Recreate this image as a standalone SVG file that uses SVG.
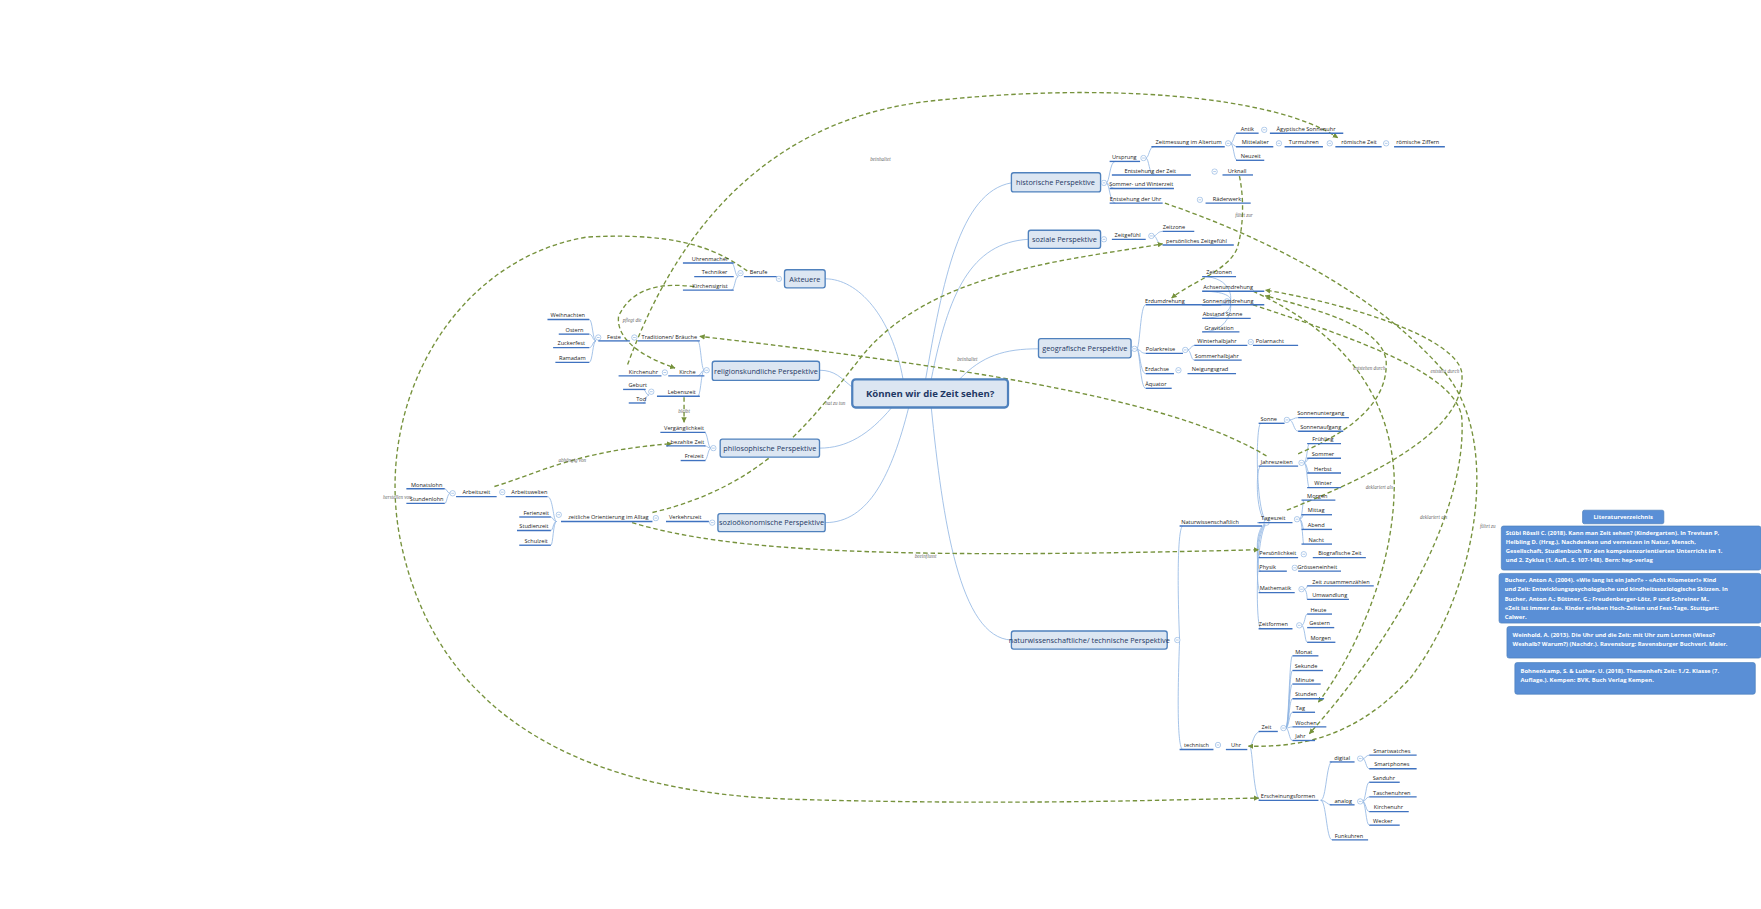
<svg xmlns="http://www.w3.org/2000/svg" width="1761" height="909" viewBox="0 0 1761 909">
<defs>
<style>
.t{font-family:"Open Sans","Liberation Sans",sans-serif;font-size:5px;fill:#222;text-anchor:middle}
.u{stroke:#3f72c0;stroke-width:1.2}
.b{fill:none;stroke:#8db3e2;stroke-width:0.7}
.i{fill:#fff;stroke:#8db3e2;stroke-width:0.6}
.m{fill:#dce6f2;stroke:#4f81bd;stroke-width:1.2}
.mt{font-family:"Open Sans","Liberation Sans",sans-serif;font-size:6.5px;fill:#1f3864;text-anchor:middle}
.r{fill:none;stroke:#76923c;stroke-width:1.2;stroke-dasharray:4 2.5}
.rl{font-family:"Liberation Serif",serif;font-style:italic;font-size:4.5px;fill:#666;text-anchor:middle}
.lit{fill:#5a8fd6;stroke:#4a7ebb;stroke-width:0.6}
.lt{font-family:"Open Sans","Liberation Sans",sans-serif;font-size:5.2px;font-weight:bold;fill:#fff}
</style>
<marker id="a" viewBox="0 0 10 10" refX="9" refY="5" markerWidth="4" markerHeight="4" orient="auto"><path d="M0,0L10,5L0,10z" fill="#76923c"/></marker>
<symbol id="ic" viewBox="-3 -3 6 6"><circle r="2.4" class="i"/><path d="M-1.2,0H1.2" stroke="#8db3e2" stroke-width="0.6"/></symbol>
</defs>
<rect width="1761" height="909" fill="#fff"/>
<g transform="scale(1.1288)">
<g id="connectors">
<!-- center to main -->
<path class="b" d="M820,336 C835,250 850,170 896,162"/>
<path class="b" d="M825,336 C840,260 860,215 911,212"/>
<path class="b" d="M850,336 C870,315 890,309 920,309"/>
<path class="b" d="M825,361 C835,460 850,565 896,567"/>
<path class="b" d="M800,336 C790,280 760,247 731,247"/>
<path class="b" d="M755,343 C745,335 740,328 726,328"/>
<path class="b" d="M790,361 C770,385 750,397 726,397"/>
<path class="b" d="M805,361 C790,420 770,463 731,463"/>
<!-- historic tree -->
<path class="b" d="M980,162 C983,162 983,143 988,143 M980,162 C983,162 983,167 988,167 M980,162 C983,162 983,180 988,180"/>
<path class="b" d="M1015,140 C1018,140 1018,130 1022,130 M1015,140 C1018,140 1018,155 1022,155"/>
<path class="b" d="M1090,127 C1093,127 1093,118 1096,118 M1090,127 C1093,127 1093,130 1096,130 M1090,127 C1093,127 1093,142 1096,142"/>
<!-- social -->
<path class="b" d="M1022,209 C1025,209 1025,205 1030,205 M1022,209 C1025,209 1025,217 1030,217"/>
<!-- geo -->
<path class="b" d="M1007,309 C1010,309 1010,270 1015,270 M1007,309 C1010,309 1010,313 1015,313 M1007,309 C1010,309 1010,331 1015,331 M1007,309 C1010,309 1010,344 1015,344"/>
<path class="b" d="M1089,267 C1092,267 1092,245 1065,245 M1089,267 C1092,267 1092,258 1065,258 M1089,267 C1092,267 1092,270 1065,270 M1089,267 C1092,267 1092,282 1065,282 M1089,267 C1092,267 1092,294 1065,294"/>
<path class="b" d="M1052,310 C1055,310 1055,306 1058,306 M1052,310 C1055,310 1055,319 1058,319"/>
<!-- naturwiss -->
<path class="b" d="M1045,567 C1043,520 1043,466 1048,466 M1045,567 C1043,620 1043,664 1048,664"/>
<path class="b" d="M1124,463 C1112,463 1112,375 1117,375 M1124,463 C1112,463 1112,413 1117,413 M1124,463 C1112,463 1112,463 1117,463 M1124,463 C1112,463 1112,494 1117,494 M1124,463 C1112,463 1112,506 1117,506 M1124,463 C1112,463 1112,525 1117,525 M1124,463 C1112,463 1112,557 1117,557"/>
<path class="b" d="M1142,372 C1146,372 1146,370 1150,370 M1142,372 C1146,372 1146,382 1150,382"/>
<path class="b" d="M1155,410 C1158,410 1158,393 1160,393 M1155,410 C1158,410 1158,406 1160,406 M1155,410 C1158,410 1158,419 1160,419 M1155,410 C1158,410 1158,432 1160,432"/>
<path class="b" d="M1151,460 C1154,460 1154,443 1155,443 M1151,460 C1154,460 1154,456 1155,456 M1151,460 C1154,460 1154,469 1155,469 M1151,460 C1154,460 1154,482 1155,482"/>
<path class="b" d="M1155,522 C1158,522 1158,519 1158,519 M1155,522 C1158,522 1158,531 1158,531"/>
<path class="b" d="M1153,554 C1156,554 1156,544 1158,544 M1153,554 C1156,554 1156,569 1158,569"/>
<path class="b" d="M1107,661 C1110,661 1110,648 1117,648 M1107,661 C1110,661 1110,709 1117,709"/>
<path class="b" d="M1139,645 C1142,645 1142,581 1145,581 M1139,645 C1142,645 1142,594 1145,594 M1139,645 C1142,645 1142,606 1145,606 M1139,645 C1142,645 1142,619 1145,619 M1139,645 C1142,645 1142,631 1145,631 M1139,645 C1142,645 1142,644 1145,644 M1139,645 C1142,645 1142,656 1145,656"/>
<path class="b" d="M1170,709 C1175,709 1175,675 1180,675 M1170,709 C1175,709 1175,713 1180,713 M1170,709 C1175,709 1175,744 1180,744"/>
<path class="b" d="M1207,672 C1210,672 1210,669 1213,669 M1207,672 C1210,672 1210,681 1213,681"/>
<path class="b" d="M1207,710 C1210,710 1210,693 1213,693 M1207,710 C1210,710 1210,706 1213,706 M1207,710 C1210,710 1210,719 1213,719 M1207,710 C1210,710 1210,731 1213,731"/>
<!-- left trees -->
<path class="b" d="M654,245 C651,245 651,233 648,233 M654,245 C651,245 651,257 648,257"/>
<path class="b" d="M624,328 C621,328 621,302 618,302 M624,328 C621,328 621,333 618,333 M624,328 C621,328 621,351 618,351"/>
<path class="b" d="M528,302 C525,302 525,283 522,283 M528,302 C525,302 525,296 522,296 M528,302 C525,302 525,308 522,308 M528,302 C525,302 525,321 522,321"/>
<path class="b" d="M575,350 C572,350 572,345 570,345 M575,350 C572,350 572,357 570,357"/>
<path class="b" d="M630,397 C627,397 627,383 624,383 M630,397 C627,397 627,395 624,395 M630,397 C627,397 627,408 624,408"/>
<path class="b" d="M493,462 C490,462 490,440 485,440 M493,462 C490,462 490,458 488,458 M493,462 C490,462 490,470 488,470 M493,462 C490,462 490,483 488,483"/>
<path class="b" d="M399,437 C396,437 396,433 394,433 M399,437 C396,437 396,446 394,446"/>
<!-- relationships -->
<path class="r" d="M556,323 C590,230 660,110 820,90 C980,72 1130,85 1185,122" marker-end="url(#a)"/>
<path class="r" d="M662,240 C640,225 610,205 520,210 C400,230 330,360 355,480 C380,600 470,700 700,708 C900,714 1050,708 1115,707" marker-end="url(#a)"/>
<path class="r" d="M615,254 C585,250 560,255 548,280 C545,305 580,320 598,326" marker-end="url(#a)"/>
<path class="r" d="M606,352 L606,374" marker-end="url(#a)"/>
<path class="r" d="M438,431 C480,418 510,400 595,393" marker-end="url(#a)"/>
<path class="r" d="M578,454 C680,430 720,370 760,320 C820,240 950,230 1030,216" marker-end="url(#a)"/>
<path class="r" d="M560,463 C650,490 800,495 1115,487" marker-end="url(#a)"/>
<path class="r" d="M1122,404 C1050,360 900,330 620,298" marker-end="url(#a)"/>
<path class="r" d="M1098,156 C1102,175 1102,200 1096,220 C1088,240 1055,250 1038,264" marker-end="url(#a)"/>
<path class="r" d="M1032,180 C1120,210 1220,260 1280,330 C1330,390 1310,520 1250,600 C1200,655 1150,662 1106,661" marker-end="url(#a)"/>
<path class="r" d="M1150,402 C1190,385 1230,360 1228,320 C1225,290 1170,275 1121,262" marker-end="url(#a)"/>
<path class="r" d="M1140,452 C1220,420 1300,380 1295,330 C1290,300 1200,270 1121,257" marker-end="url(#a)"/>
<path class="r" d="M1110,258 C1180,290 1230,340 1235,420 C1238,500 1200,580 1168,622" marker-end="url(#a)"/>
<path class="r" d="M1110,270 C1200,300 1290,330 1295,370 C1300,450 1240,560 1160,650" marker-end="url(#a)"/>
<text class="rl" x="780" y="143">beinhaltet</text>
<text class="rl" x="352" y="442">herstellen von</text>
<text class="rl" x="560" y="285">pflegt die</text>
<text class="rl" x="606" y="366">bleibt</text>
<text class="rl" x="507" y="409">abhängig von</text>
<text class="rl" x="740" y="359">hat zu tun</text>
<text class="rl" x="820" y="494">beeinflusst</text>
<text class="rl" x="857" y="320">beinhaltet</text>
<text class="rl" x="1102" y="192">führt zur</text>
<text class="rl" x="1318" y="468">führt zu</text>
<text class="rl" x="1213" y="328">entstehen durch</text>
<text class="rl" x="1280" y="330">entsteht durch</text>
<text class="rl" x="1222" y="433">deklariert als</text>
<text class="rl" x="1270" y="460">deklariert als</text>
</g>
<g id="center"><rect x="755" y="336" width="138" height="25" rx="3" fill="#dce6f2" stroke="#4f81bd" stroke-width="2"/><text x="824" y="352" style="font-family:'Open Sans','Liberation Sans',sans-serif;font-size:8.5px;font-weight:bold;fill:#1f3864;text-anchor:middle">Können wir die Zeit sehen?</text></g>
<g id="main">
<g id="n-hist"><rect class="m" x="896" y="153" width="79" height="17" rx="2"/><text class="mt" x="935" y="164">historische Perspektive</text></g>
<g id="n-soz"><rect class="m" x="911" y="204" width="64" height="16" rx="2"/><text class="mt" x="943" y="214.5">soziale Perspektive</text></g>
<g id="n-geo"><rect class="m" x="920" y="300" width="82" height="17" rx="2"/><text class="mt" x="961" y="311">geografische Perspektive</text></g>
<g id="n-nat"><rect class="m" x="896" y="559" width="138" height="16" rx="2"/><text class="mt" x="965" y="569.5">naturwissenschaftliche/ technische Perspektive</text></g>
<g id="n-akt"><rect class="m" x="695" y="239" width="36" height="16" rx="2"/><text class="mt" x="713" y="249.5">Akteuere</text></g>
<g id="n-rel"><rect class="m" x="631" y="320" width="95" height="17" rx="2"/><text class="mt" x="678.5" y="331">religionskundliche Perspektive</text></g>
<g id="n-phil"><rect class="m" x="638" y="389" width="88" height="16" rx="2"/><text class="mt" x="682" y="399.5">philosophische Perspektive</text></g>
<g id="n-soek"><rect class="m" x="636" y="455" width="95" height="16" rx="2"/><text class="mt" x="683.5" y="465.5">sozioökonomische Perspektive</text></g>
</g>
<g id="icons">
<use href="#ic" x="975" y="159" width="6" height="6"/><use href="#ic" x="1010" y="137" width="6" height="6"/><use href="#ic" x="1085" y="124" width="6" height="6"/><use href="#ic" x="1117" y="112" width="6" height="6"/><use href="#ic" x="1130" y="124" width="6" height="6"/><use href="#ic" x="1175" y="124" width="6" height="6"/><use href="#ic" x="1225" y="124" width="6" height="6"/><use href="#ic" x="1073" y="149" width="6" height="6"/><use href="#ic" x="1060" y="174" width="6" height="6"/>
<use href="#ic" x="975" y="209" width="6" height="6"/><use href="#ic" x="1017" y="206" width="6" height="6"/>
<use href="#ic" x="1002" y="306" width="6" height="6"/><use href="#ic" x="1084" y="264" width="6" height="6"/><use href="#ic" x="1047" y="307" width="6" height="6"/><use href="#ic" x="1105" y="300" width="6" height="6"/><use href="#ic" x="1041" y="325" width="6" height="6"/>
<use href="#ic" x="1040" y="564" width="6" height="6"/><use href="#ic" x="1119" y="460" width="6" height="6"/><use href="#ic" x="1137" y="369" width="6" height="6"/><use href="#ic" x="1150" y="407" width="6" height="6"/><use href="#ic" x="1146" y="457" width="6" height="6"/><use href="#ic" x="1152" y="488" width="6" height="6"/><use href="#ic" x="1144" y="500" width="6" height="6"/><use href="#ic" x="1150" y="519" width="6" height="6"/><use href="#ic" x="1148" y="551" width="6" height="6"/>
<use href="#ic" x="1076" y="657" width="6" height="6"/><use href="#ic" x="1134" y="642" width="6" height="6"/><use href="#ic" x="1202" y="669" width="6" height="6"/><use href="#ic" x="1202" y="707" width="6" height="6"/>
<use href="#ic" x="687" y="244" width="6" height="6"/><use href="#ic" x="653" y="239" width="6" height="6"/><use href="#ic" x="623" y="325" width="6" height="6"/><use href="#ic" x="559" y="296" width="6" height="6"/><use href="#ic" x="527" y="296" width="6" height="6"/><use href="#ic" x="586" y="327" width="6" height="6"/><use href="#ic" x="574" y="344" width="6" height="6"/><use href="#ic" x="629" y="394" width="6" height="6"/><use href="#ic" x="628" y="460" width="6" height="6"/><use href="#ic" x="578" y="456" width="6" height="6"/><use href="#ic" x="492" y="453" width="6" height="6"/><use href="#ic" x="398" y="434" width="6" height="6"/><use href="#ic" x="442" y="433" width="6" height="6"/>
</g>
<g id="leaves">
<g id="l-urs"><text class="t" x="996" y="141">Ursprung</text><line class="u" x1="983" y1="143" x2="1010" y2="143"/></g>
<g id="l-zma"><text class="t" x="1053" y="128">Zeitmessung im Altertum</text><line class="u" x1="1020" y1="130" x2="1085" y2="130"/></g>
<g id="l-antik"><text class="t" x="1105" y="116">Antik</text><line class="u" x1="1095" y1="118" x2="1115" y2="118"/></g>
<g id="l-aeg"><text class="t" x="1157" y="116">Ägyptische Sonnenuhr</text><line class="u" x1="1125" y1="118" x2="1190" y2="118"/></g>
<g id="l-mit"><text class="t" x="1112" y="128">Mittelalter</text><line class="u" x1="1095" y1="130" x2="1128" y2="130"/></g>
<g id="l-turm"><text class="t" x="1155" y="128">Turmuhren</text><line class="u" x1="1138" y1="130" x2="1172" y2="130"/></g>
<g id="l-roem"><text class="t" x="1204" y="128">römische Zeit</text><line class="u" x1="1183" y1="130" x2="1224" y2="130"/></g>
<g id="l-roemz"><text class="t" x="1256" y="128">römische Ziffern</text><line class="u" x1="1235" y1="130" x2="1280" y2="130"/></g>
<g id="l-neu"><text class="t" x="1108" y="140">Neuzeit</text><line class="u" x1="1095" y1="142" x2="1120" y2="142"/></g>
<g id="l-ezeit"><text class="t" x="1019" y="153">Entstehung der Zeit</text><line class="u" x1="985" y1="155" x2="1055" y2="155"/></g>
<g id="l-urk"><text class="t" x="1096" y="153">Urknall</text><line class="u" x1="1083" y1="155" x2="1110" y2="155"/></g>
<g id="l-sow"><text class="t" x="1011" y="165">Sommer- und Winterzeit</text><line class="u" x1="983" y1="167" x2="1040" y2="167"/></g>
<g id="l-euhr"><text class="t" x="1006" y="178">Entstehung der Uhr</text><line class="u" x1="983" y1="180" x2="1030" y2="180"/></g>
<g id="l-rad"><text class="t" x="1087" y="178">Räderwerk</text><line class="u" x1="1068" y1="180" x2="1108" y2="180"/></g>
<g id="l-zg"><text class="t" x="999" y="210">Zeitgefühl</text><line class="u" x1="985" y1="212" x2="1015" y2="212"/></g>
<g id="l-zz"><text class="t" x="1040" y="203">Zeitzone</text><line class="u" x1="1030" y1="205" x2="1058" y2="205"/></g>
<g id="l-pzg"><text class="t" x="1060" y="215">persönliches Zeitgefühl</text><line class="u" x1="1030" y1="217" x2="1093" y2="217"/></g>
<g id="l-erd"><text class="t" x="1032" y="268">Erdumdrehung</text><line class="u" x1="1015" y1="270" x2="1082" y2="270"/></g>
<g id="l-zzn"><text class="t" x="1080" y="243">Zeitzonen</text><line class="u" x1="1065" y1="245" x2="1095" y2="245"/></g>
<g id="l-achs"><text class="t" x="1088" y="256">Achsenumdrehung</text><line class="u" x1="1065" y1="258" x2="1120" y2="258"/></g>
<g id="l-sonu"><text class="t" x="1088" y="268">Sonnenumdrehung</text><line class="u" x1="1065" y1="270" x2="1120" y2="270"/></g>
<g id="l-abst"><text class="t" x="1083" y="280">Abstand Sonne</text><line class="u" x1="1065" y1="282" x2="1108" y2="282"/></g>
<g id="l-grav"><text class="t" x="1080" y="292">Gravitation</text><line class="u" x1="1065" y1="294" x2="1098" y2="294"/></g>
<g id="l-pol"><text class="t" x="1028" y="311">Polarkreise</text><line class="u" x1="1015" y1="313" x2="1048" y2="313"/></g>
<g id="l-whj"><text class="t" x="1078" y="304">Winterhalbjahr</text><line class="u" x1="1058" y1="306" x2="1105" y2="306"/></g>
<g id="l-pn"><text class="t" x="1125" y="304">Polarnacht</text><line class="u" x1="1110" y1="306" x2="1150" y2="306"/></g>
<g id="l-shj"><text class="t" x="1078" y="317">Sommerhalbjahr</text><line class="u" x1="1058" y1="319" x2="1100" y2="319"/></g>
<g id="l-ea"><text class="t" x="1025" y="329">Erdachse</text><line class="u" x1="1015" y1="331" x2="1040" y2="331"/></g>
<g id="l-ng"><text class="t" x="1072" y="329">Neigungsgrad</text><line class="u" x1="1052" y1="331" x2="1095" y2="331"/></g>
<g id="l-aeq"><text class="t" x="1024" y="342">Äquator</text><line class="u" x1="1015" y1="344" x2="1038" y2="344"/></g>
<g id="l-nw"><text class="t" x="1072" y="464">Naturwissenschaftlich</text><line class="u" x1="1045" y1="466" x2="1118" y2="466"/></g>
<g id="l-son"><text class="t" x="1124" y="373">Sonne</text><line class="u" x1="1115" y1="375" x2="1138" y2="375"/></g>
<g id="l-sug"><text class="t" x="1170" y="368">Sonnenuntergang</text><line class="u" x1="1150" y1="370" x2="1195" y2="370"/></g>
<g id="l-sag"><text class="t" x="1170" y="380">Sonnenaufgang</text><line class="u" x1="1150" y1="382" x2="1190" y2="382"/></g>
<g id="l-jz"><text class="t" x="1131" y="411">Jahreszeiten</text><line class="u" x1="1115" y1="413" x2="1150" y2="413"/></g>
<g id="l-fr"><text class="t" x="1172" y="391">Frühling</text><line class="u" x1="1158" y1="393" x2="1188" y2="393"/></g>
<g id="l-so"><text class="t" x="1172" y="404">Sommer</text><line class="u" x1="1158" y1="406" x2="1188" y2="406"/></g>
<g id="l-he"><text class="t" x="1172" y="417">Herbst</text><line class="u" x1="1158" y1="419" x2="1188" y2="419"/></g>
<g id="l-wi"><text class="t" x="1172" y="430">Winter</text><line class="u" x1="1158" y1="432" x2="1188" y2="432"/></g>
<g id="l-tz"><text class="t" x="1128" y="461">Tageszeit</text><line class="u" x1="1115" y1="463" x2="1145" y2="463"/></g>
<g id="l-mo"><text class="t" x="1167" y="441">Morgen</text><line class="u" x1="1153" y1="443" x2="1183" y2="443"/></g>
<g id="l-mi"><text class="t" x="1166" y="454">Mittag</text><line class="u" x1="1153" y1="456" x2="1180" y2="456"/></g>
<g id="l-ab"><text class="t" x="1166" y="467">Abend</text><line class="u" x1="1153" y1="469" x2="1180" y2="469"/></g>
<g id="l-na"><text class="t" x="1166" y="480">Nacht</text><line class="u" x1="1153" y1="482" x2="1180" y2="482"/></g>
<g id="l-pers"><text class="t" x="1132" y="492">Persönlichkeit</text><line class="u" x1="1115" y1="494" x2="1150" y2="494"/></g>
<g id="l-bio"><text class="t" x="1187" y="492">Biografische Zeit</text><line class="u" x1="1163" y1="494" x2="1210" y2="494"/></g>
<g id="l-phy"><text class="t" x="1123" y="504">Physik</text><line class="u" x1="1115" y1="506" x2="1140" y2="506"/></g>
<g id="l-gr"><text class="t" x="1167" y="504">Grösseneinheit</text><line class="u" x1="1150" y1="506" x2="1188" y2="506"/></g>
<g id="l-mat"><text class="t" x="1130" y="523">Mathematik</text><line class="u" x1="1115" y1="525" x2="1147" y2="525"/></g>
<g id="l-zus"><text class="t" x="1188" y="517">Zeit zusammenzählen</text><line class="u" x1="1158" y1="519" x2="1217" y2="519"/></g>
<g id="l-umw"><text class="t" x="1178" y="529">Umwandlung</text><line class="u" x1="1158" y1="531" x2="1195" y2="531"/></g>
<g id="l-zf"><text class="t" x="1128" y="555">Zeitformen</text><line class="u" x1="1115" y1="557" x2="1145" y2="557"/></g>
<g id="l-heu"><text class="t" x="1168" y="542">Heute</text><line class="u" x1="1158" y1="544" x2="1180" y2="544"/></g>
<g id="l-ges"><text class="t" x="1169" y="554">Gestern</text><line class="u" x1="1158" y1="556" x2="1182" y2="556"/></g>
<g id="l-mor"><text class="t" x="1170" y="567">Morgen</text><line class="u" x1="1158" y1="569" x2="1183" y2="569"/></g>
<g id="l-tech"><text class="t" x="1060" y="662">technisch</text><line class="u" x1="1045" y1="664" x2="1075" y2="664"/></g>
<g id="l-uhr"><text class="t" x="1095" y="662">Uhr</text><line class="u" x1="1086" y1="664" x2="1105" y2="664"/></g>
<g id="l-zeit"><text class="t" x="1122" y="646">Zeit</text><line class="u" x1="1115" y1="648" x2="1132" y2="648"/></g>
<g id="l-mon"><text class="t" x="1155" y="579">Monat</text><line class="u" x1="1145" y1="581" x2="1168" y2="581"/></g>
<g id="l-sek"><text class="t" x="1157" y="592">Sekunde</text><line class="u" x1="1145" y1="594" x2="1172" y2="594"/></g>
<g id="l-min"><text class="t" x="1156" y="604">Minute</text><line class="u" x1="1145" y1="606" x2="1170" y2="606"/></g>
<g id="l-std"><text class="t" x="1157" y="617">Stunden</text><line class="u" x1="1145" y1="619" x2="1173" y2="619"/></g>
<g id="l-tag"><text class="t" x="1152" y="629">Tag</text><line class="u" x1="1145" y1="631" x2="1165" y2="631"/></g>
<g id="l-wo"><text class="t" x="1157" y="642">Wochen</text><line class="u" x1="1145" y1="644" x2="1175" y2="644"/></g>
<g id="l-jahr"><text class="t" x="1152" y="654">Jahr</text><line class="u" x1="1145" y1="656" x2="1165" y2="656"/></g>
<g id="l-ersch"><text class="t" x="1141" y="707">Erscheinungsformen</text><line class="u" x1="1115" y1="709" x2="1168" y2="709"/></g>
<g id="l-dig"><text class="t" x="1189" y="673">digital</text><line class="u" x1="1178" y1="675" x2="1200" y2="675"/></g>
<g id="l-sw"><text class="t" x="1233" y="667">Smartwatches</text><line class="u" x1="1213" y1="669" x2="1255" y2="669"/></g>
<g id="l-sp"><text class="t" x="1233" y="679">Smartphones</text><line class="u" x1="1213" y1="681" x2="1255" y2="681"/></g>
<g id="l-ana"><text class="t" x="1190" y="711">analog</text><line class="u" x1="1178" y1="713" x2="1200" y2="713"/></g>
<g id="l-sand"><text class="t" x="1226" y="691">Sanduhr</text><line class="u" x1="1213" y1="693" x2="1240" y2="693"/></g>
<g id="l-tas"><text class="t" x="1233" y="704">Taschenuhren</text><line class="u" x1="1213" y1="706" x2="1255" y2="706"/></g>
<g id="l-kiu"><text class="t" x="1230" y="717">Kirchenuhr</text><line class="u" x1="1213" y1="719" x2="1248" y2="719"/></g>
<g id="l-wec"><text class="t" x="1225" y="729">Wecker</text><line class="u" x1="1213" y1="731" x2="1240" y2="731"/></g>
<g id="l-funk"><text class="t" x="1195" y="742">Funkuhren</text><line class="u" x1="1180" y1="744" x2="1212" y2="744"/></g>
<g id="l-ber"><text class="t" x="672" y="243">Berufe</text><line class="u" x1="659" y1="245" x2="688" y2="245"/></g>
<g id="l-uhm"><text class="t" x="629" y="231">Uhrenmacher</text><line class="u" x1="605" y1="233" x2="650" y2="233"/></g>
<g id="l-tec"><text class="t" x="633" y="243">Techniker</text><line class="u" x1="615" y1="245" x2="650" y2="245"/></g>
<g id="l-ksig"><text class="t" x="629" y="255">Kirchensigrist</text><line class="u" x1="605" y1="257" x2="650" y2="257"/></g>
<g id="l-trad"><text class="t" x="593" y="300">Traditionen/ Bräuche</text><line class="u" x1="565" y1="302" x2="620" y2="302"/></g>
<g id="l-fes"><text class="t" x="544" y="300">Feste</text><line class="u" x1="530" y1="302" x2="558" y2="302"/></g>
<g id="l-weih"><text class="t" x="503" y="281">Weihnachten</text><line class="u" x1="485" y1="283" x2="522" y2="283"/></g>
<g id="l-ost"><text class="t" x="509" y="294">Ostern</text><line class="u" x1="495" y1="296" x2="522" y2="296"/></g>
<g id="l-zuck"><text class="t" x="506" y="306">Zuckerfest</text><line class="u" x1="490" y1="308" x2="522" y2="308"/></g>
<g id="l-ram"><text class="t" x="507" y="319">Ramadam</text><line class="u" x1="492" y1="321" x2="522" y2="321"/></g>
<g id="l-kir"><text class="t" x="609" y="331">Kirche</text><line class="u" x1="592" y1="333" x2="624" y2="333"/></g>
<g id="l-kuhr"><text class="t" x="570" y="331">Kirchenuhr</text><line class="u" x1="548" y1="333" x2="586" y2="333"/></g>
<g id="l-leb"><text class="t" x="604" y="349">Lebenszeit</text><line class="u" x1="582" y1="351" x2="620" y2="351"/></g>
<g id="l-geb"><text class="t" x="565" y="343">Geburt</text><line class="u" x1="552" y1="345" x2="572" y2="345"/></g>
<g id="l-tod"><text class="t" x="568" y="355">Tod</text><line class="u" x1="557" y1="357" x2="572" y2="357"/></g>
<g id="l-verg"><text class="t" x="606" y="381">Vergänglichkeit</text><line class="u" x1="585" y1="383" x2="625" y2="383"/></g>
<g id="l-bez"><text class="t" x="609" y="393">bezahlte Zeit</text><line class="u" x1="590" y1="395" x2="625" y2="395"/></g>
<g id="l-frei"><text class="t" x="615" y="406">Freizeit</text><line class="u" x1="603" y1="408" x2="625" y2="408"/></g>
<g id="l-verk"><text class="t" x="607" y="460">Verkehrszeit</text><line class="u" x1="590" y1="462" x2="628" y2="462"/></g>
<g id="l-zoa"><text class="t" x="539" y="460">zeitliche Orientierung im Alltag</text><line class="u" x1="497" y1="462" x2="578" y2="462"/></g>
<g id="l-aw"><text class="t" x="469" y="438">Arbeitswelten</text><line class="u" x1="448" y1="440" x2="485" y2="440"/></g>
<g id="l-az"><text class="t" x="422" y="438">Arbeitszeit</text><line class="u" x1="404" y1="440" x2="440" y2="440"/></g>
<g id="l-ml"><text class="t" x="378" y="431">Monatslohn</text><line class="u" x1="360" y1="433" x2="394" y2="433"/></g>
<g id="l-sl"><text class="t" x="378" y="444">Stundenlohn</text><line class="u" x1="360" y1="446" x2="394" y2="446"/></g>
<g id="l-fer"><text class="t" x="475" y="456">Ferienzeit</text><line class="u" x1="460" y1="458" x2="488" y2="458"/></g>
<g id="l-stu"><text class="t" x="473" y="468">Studienzeit</text><line class="u" x1="458" y1="470" x2="488" y2="470"/></g>
<g id="l-sch"><text class="t" x="475" y="481">Schulzeit</text><line class="u" x1="460" y1="483" x2="488" y2="483"/></g>
</g>
<g id="literatur">
<g id="lit-title"><rect class="lit" x="1402" y="452" width="72" height="12" rx="1.5"/><text class="lt" x="1438" y="460" text-anchor="middle">Literaturverzeichnis</text></g>
<g id="lit-1"><rect class="lit" x="1330" y="466" width="230" height="39" rx="2"/><text class="lt" x="1334" y="474">Stübi Rössli C. (2018). Kann man Zeit sehen? (Kindergarten). In Trevisan P,</text><text class="lt" x="1334" y="482">Helbling D. (Hrsg.), Nachdenken und vernetzen in Natur, Mensch,</text><text class="lt" x="1334" y="490">Gesellschaft, Studienbuch für den kompetenzorientierten Unterricht im 1.</text><text class="lt" x="1334" y="498">und 2. Zyklus (1. Aufl., S. 107-148). Bern: hep-verlag</text></g>
<g id="lit-2"><rect class="lit" x="1328" y="508" width="232" height="44" rx="2"/><text class="lt" x="1333" y="516">Bucher, Anton A. (2004). «Wie lang ist ein Jahr?» - «Acht Kilometer!» Kind</text><text class="lt" x="1333" y="524">und Zeit: Entwicklungspsychologische und kindheitssoziologische Skizzen. In</text><text class="lt" x="1333" y="532">Bucher, Anton A.; Büttner, G.; Freudenberger-Lötz, P und Schreiner M.,</text><text class="lt" x="1333" y="540">«Zeit ist immer da». Kinder erleben Hoch-Zeiten und Fest-Tage. Stuttgart:</text><text class="lt" x="1333" y="548">Calwer.</text></g>
<g id="lit-3"><rect class="lit" x="1335" y="555" width="225" height="28" rx="2"/><text class="lt" x="1340" y="564">Weinhold, A. (2013). Die Uhr und die Zeit: mit Uhr zum Lernen (Wieso?</text><text class="lt" x="1340" y="572">Weshalb? Warum?) (Nachdr.). Ravensburg: Ravensburger Buchverl. Maier.</text></g>
<g id="lit-4"><rect class="lit" x="1342" y="587" width="213" height="28" rx="2"/><text class="lt" x="1347" y="596">Bohnenkamp, S. &amp; Luther, U. (2018). Themenheft Zeit: 1./2. Klasse (7.</text><text class="lt" x="1347" y="604">Auflage.). Kempen: BVK, Buch Verlag Kempen.</text></g>
</g>
</g>
</svg>
